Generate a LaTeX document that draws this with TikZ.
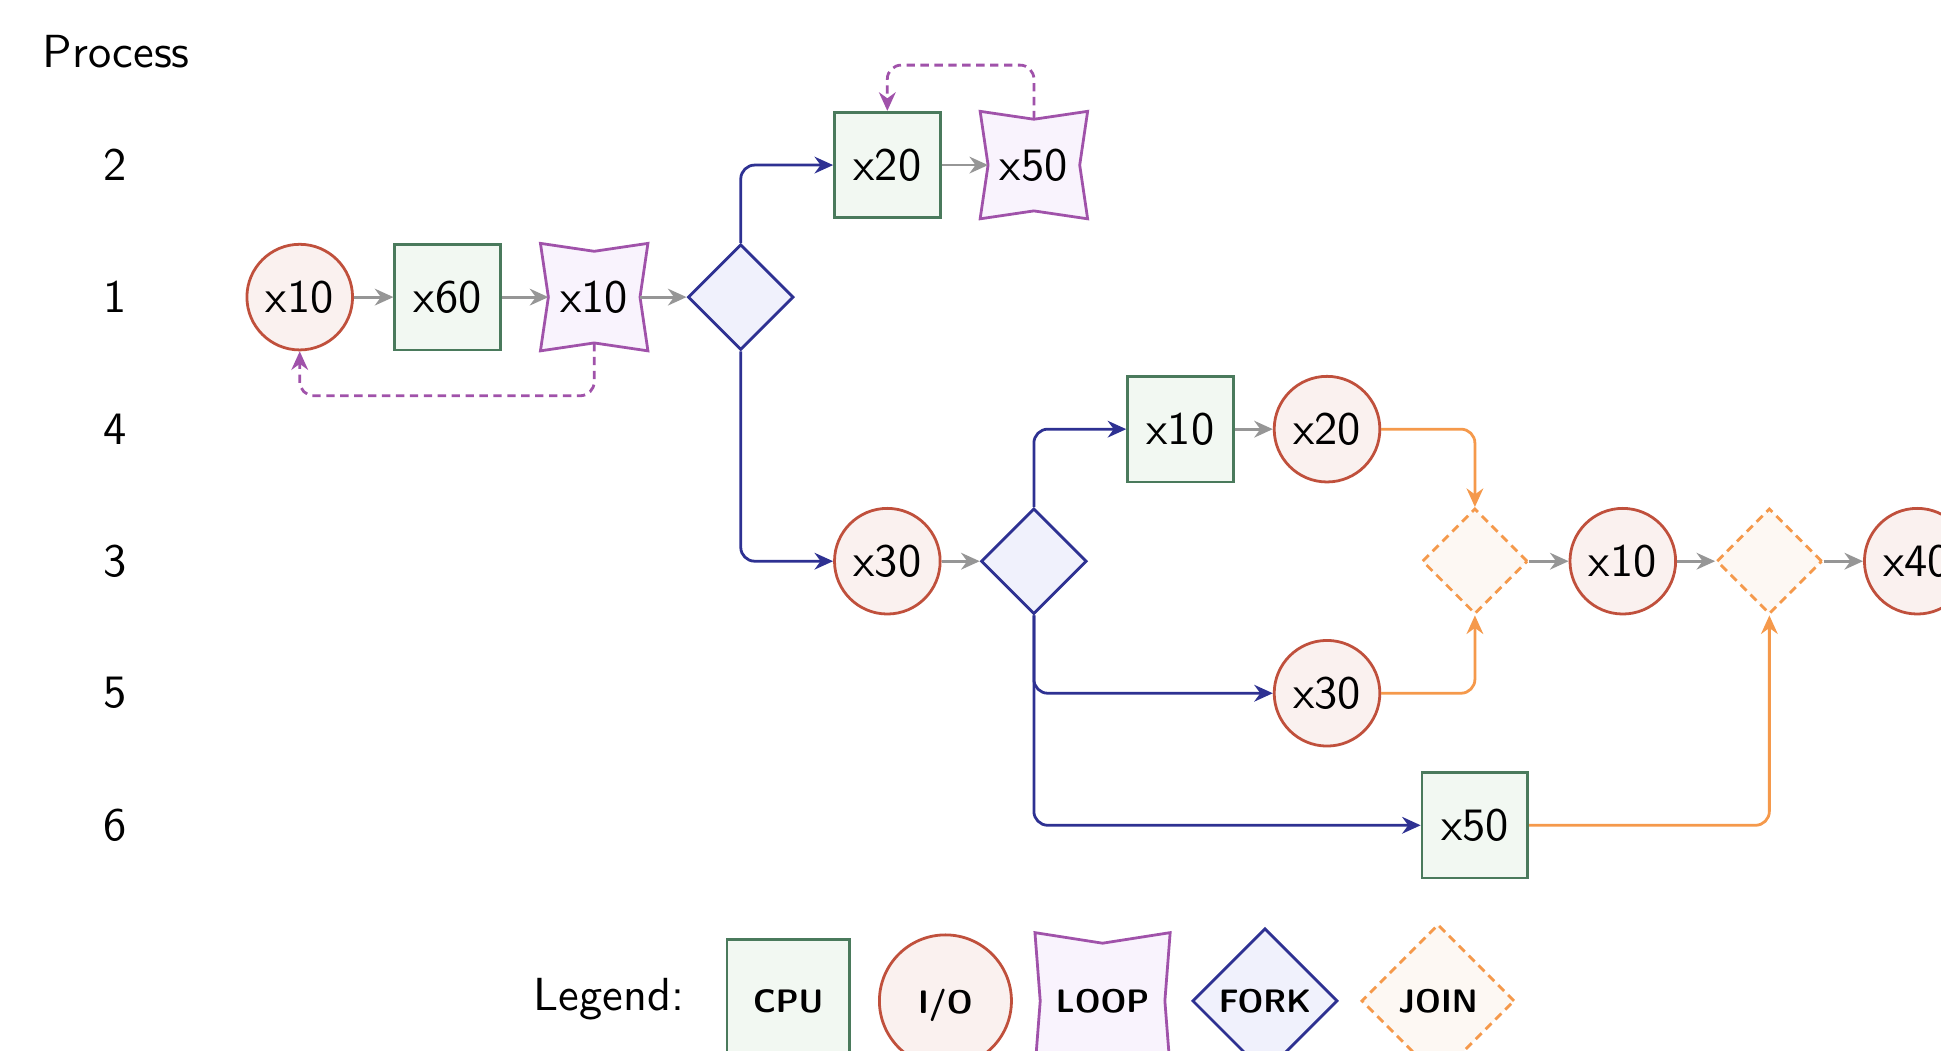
\documentclass[tikz,border=0pt]{standalone}
\usetikzlibrary{arrows.meta,shapes.geometric,backgrounds}

\definecolor{cpuline}{HTML}{4A7A5C}
\definecolor{cpufill}{HTML}{F2F8F2}
\definecolor{ioline}{HTML}{C0503C}
\definecolor{iofill}{HTML}{FAF1EF}
\definecolor{loopline}{HTML}{A052AA}
\definecolor{loopfill}{HTML}{F9F3FD}
\definecolor{forkline}{HTML}{2E3192}
\definecolor{forkfill}{HTML}{F0F1FC}
\definecolor{joinline}{HTML}{F5994B}
\definecolor{joinfill}{HTML}{FDF8F3}
\definecolor{flowgray}{HTML}{969696}

\tikzset{
  cpunode/.style={draw=cpuline, fill=cpufill, line width=0.6pt, minimum size=0.8cm, inner sep=0pt},
  ionode/.style={circle, draw=ioline, fill=iofill, line width=0.6pt, minimum size=0.8cm, inner sep=0pt},
  loopbox/.style={minimum size=0.68cm, inner sep=0pt},
  loopedge/.style={draw=loopline, fill=loopfill, line width=0.6pt},
  forknode/.style={diamond, draw=forkline, fill=forkfill, line width=0.6pt, minimum size=0.8cm, inner sep=0pt},
  joinnode/.style={diamond, draw=joinline, fill=joinfill, line width=0.6pt, dash pattern=on 1.8pt off 1.2pt, minimum size=0.8cm, inner sep=0pt},
  tip/.style={-{Stealth[length=4pt,width=3.6pt]}},
  flow/.style={tip, draw=flowgray, line width=0.6pt},
  forkto/.style={tip, draw=forkline, line width=0.6pt, rounded corners=3pt},
  jointo/.style={tip, draw=joinline, line width=0.6pt, rounded corners=3pt},
  loopback/.style={tip, draw=loopline, line width=0.6pt, dash pattern=on 1.8pt off 1.2pt, rounded corners=3pt},
  legendtext/.style={font=\sffamily\bfseries\scriptsize, text depth=0pt, inner sep=1pt}
}

\newcommand{\loopshape}[3]{%
  \filldraw[loopedge] ([xshift=-#2,yshift=#3]#1.north west) -- (#1.north)
    -- ([xshift=#2,yshift=#3]#1.north east) -- (#1.east)
    -- ([xshift=#2,yshift=-#3]#1.south east) -- (#1.south)
    -- ([xshift=-#2,yshift=-#3]#1.south west) -- (#1.west) -- cycle;}

\begin{document}
\begin{tikzpicture}[font=\sffamily]
      \useasboundingbox (0,0) rectangle (14.70,-7.955);

      \node (P0) at (0.88, -0.39) {Process};
      \node (P2) at (0.87, -1.25) {2};
      \node (P1) at (0.87, -2.25) {1};
      \node (P4) at (0.87, -3.25) {4};
      \node (P3) at (0.87, -4.25) {3};
      \node (P5) at (0.87, -5.25) {5};
      \node (P6) at (0.87, -6.25) {6};

      \node[ionode] (A1) at (2.27, -2.25) {x10};
      \node[cpunode] (B1) at (3.39, -2.25) {x60};
      \node[loopbox] (C1) at (4.50, -2.25) {x10};
      \node[forknode] (D1) at (5.61, -2.25) {};
      \node[cpunode] (E2) at (6.72, -1.25) {x20};
      \node[loopbox] (F2) at (7.83, -1.25) {x50};
      \node[ionode] (E3) at (6.72, -4.25) {x30};
      \node[forknode] (F3) at (7.83, -4.25) {};
      \node[cpunode] (G4) at (8.94, -3.25) {x10};
      \node[ionode] (H4) at (10.05, -3.25) {x20};
      \node[ionode] (H5) at (10.05, -5.25) {x30};
      \node[cpunode] (I6) at (11.17, -6.25) {x50};
      \node[joinnode] (I3) at (11.17, -4.25) {};
      \node[ionode] (J3) at (12.29, -4.25) {x10};
      \node[joinnode] (K3) at (13.40, -4.25) {};
      \node[ionode] (L3) at (14.52, -4.25) {x40};

      \node[anchor=base] (T0) at (4.61, -7.65) {Legend:};
      \node[cpunode, legendtext, minimum size=0.93cm] (T1) at (5.97, -7.58) {CPU};
      \node[ionode, legendtext, minimum size=1.0cm] (T2) at (7.16, -7.58) {I/O};
      \node[loopbox, legendtext, minimum width=0.93cm, minimum height=0.86cm] (T3) at (8.35, -7.58) {LOOP};
      \node[forknode, legendtext, minimum size=1.1cm] (T4) at (9.58, -7.58) {FORK};
      \node[joinnode, legendtext, minimum size=1.16cm] (T5) at (10.89, -7.58) {JOIN};

      \begin{pgfonlayer}{background}
        \fill[white] (0,0) rectangle (14.70,-7.955);
        \loopshape{C1}{0.06cm}{0.06cm}
        \loopshape{F2}{0.06cm}{0.06cm}
        \loopshape{T3}{0.04cm}{0.08cm}
      \end{pgfonlayer}

      \draw[flow] (A1) -- (B1);
      \draw[flow] (B1) -- (C1);
      \draw[flow] (C1) -- (D1);
      \draw[flow] (E2) -- (F2);
      \draw[flow] (E3) -- (F3);
      \draw[flow] (G4) -- (H4);
      \draw[flow] (I3) -- (J3);
      \draw[flow] (J3) -- (K3);
      \draw[flow] (K3) -- (L3);
      \draw[forkto] (D1.north) |- (E2);
      \draw[forkto] (D1.south) |- (E3);
      \draw[forkto] (F3.north) |- (G4);
      \draw[forkto] (F3.south) |- (H5);
      \draw[forkto] (F3.south) |- (I6);
      \draw[jointo] (H4) -| (I3.north);
      \draw[jointo] (H5) -| (I3.south);
      \draw[jointo] (I6) -| (K3.south);
      \draw[loopback] (C1.south) -- ++(0, -0.40) -| (A1.south);
      \draw[loopback] (F2.north) -- ++(0, 0.41) -| (E2.north);
    \end{tikzpicture}
\end{document}
